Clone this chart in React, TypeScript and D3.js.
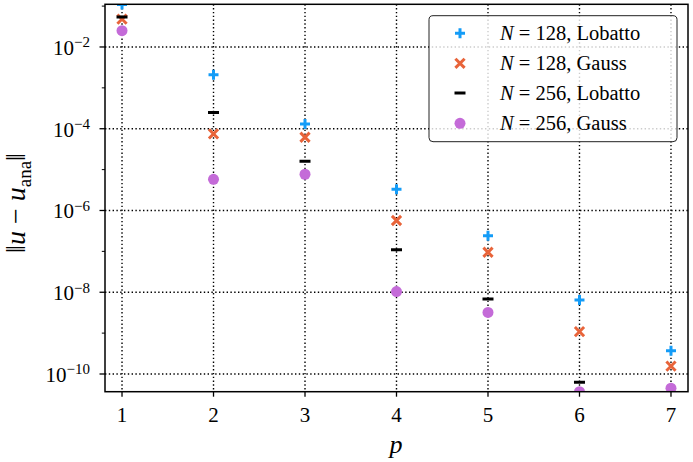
import React from "react";
import * as d3 from "d3";

// polynomial degree on the x axis
const degrees = [1, 2, 3, 4, 5, 6, 7];

// error norms per discretisation
const lobatto128 = [1.1e-1, 2.1e-3, 1.3e-4, 3.3e-6, 2.4e-7, 6.5e-9, 3.7e-10];
const gauss128 = [4.8e-2, 7.5e-5, 6.2e-5, 5.7e-7, 9.5e-8, 1.09e-9, 1.56e-10];
const lobatto256 = [5.4e-2, 2.5e-4, 1.6e-5, 1.09e-7, 6.8e-9, 6.3e-11, 1.5e-11];
const gauss256 = [2.5e-2, 5.8e-6, 7.7e-6, 1.04e-8, 3.2e-9, 3.7e-11, 4.5e-11];

const majorExponents = [-2, -4, -6, -8, -10];
const minorExponents = [-1, -3, -5, -7, -9];

const legendNames = ["128, Lobatto", "128, Gauss", "256, Lobatto", "256, Gauss"];

const BLUE = "#149cf7";
const ORANGE = "#e8643a";
const PURPLE = "#c46bd8";

const width = 693;
const height = 462;
const font = "'Liberation Serif', 'DejaVu Serif', serif";

type Kind = "plus" | "cross" | "dash" | "dot";

const Marker = ({ kind, cx, cy }: { kind: Kind; cx: number; cy: number }) => {
    const h = 5;
    if (kind === "plus") {
        return (
            <path
                d={`M${cx - h},${cy}H${cx + h}M${cx},${cy - h}V${cy + h}`}
                stroke={BLUE}
                strokeWidth={3}
            />
        );
    }
    if (kind === "cross") {
        const c = 4.6;
        return (
            <path
                d={`M${cx - c},${cy - c}L${cx + c},${cy + c}M${cx - c},${cy + c}L${cx + c},${cy - c}`}
                stroke={ORANGE}
                strokeWidth={3}
            />
        );
    }
    if (kind === "dash") {
        return (
            <path d={`M${cx - 5.5},${cy}H${cx + 5.5}`} stroke="black" strokeWidth={3} />
        );
    }
    return <circle cx={cx} cy={cy} r={5.5} fill={PURPLE} />;
};

export default function App() {
    const left = 105;
    const right = 688;
    const top = 4.3;
    const bottom = 391.7;

    const x = d3.scaleLinear().domain([0.814, 7.186]).range([left, right]);
    const y = d3
        .scaleLog()
        .domain([Math.pow(10, -10.433), Math.pow(10, -0.956)])
        .range([bottom, top]);

    const series: [Kind, number[]][] = [
        ["plus", lobatto128],
        ["cross", gauss128],
        ["dash", lobatto256],
        ["dot", gauss256],
    ];

    const legendX = 429;
    const legendY = 15.7;
    const legendRows = [33.3, 63.3, 93, 123.3];

    return (
        <svg
            width={width}
            height={height}
            style={{ position: "absolute", left: 0, top: 0, background: "white" }}
            fontFamily={font}
        >
            <defs>
                <clipPath id="plot-area">
                    <rect x={left} y={top} width={right - left} height={bottom - top} />
                </clipPath>
            </defs>

            {/* dotted grid */}
            <g stroke="black" strokeWidth={1.4} strokeDasharray="1.4,2.4">
                {degrees.map((p) => (
                    <line key={`gx-${p}`} x1={x(p)} x2={x(p)} y1={top} y2={bottom} />
                ))}
                {majorExponents.map((e) => (
                    <line
                        key={`gy-${e}`}
                        x1={left}
                        x2={right}
                        y1={y(Math.pow(10, e))}
                        y2={y(Math.pow(10, e))}
                    />
                ))}
            </g>

            {/* markers */}
            <g clipPath="url(#plot-area)">
                {series.map(([kind, values]) =>
                    values.map((v, i) => (
                        <Marker key={`${kind}-${i}`} kind={kind} cx={x(degrees[i])} cy={y(v)} />
                    ))
                )}
            </g>

            {/* frame */}
            <rect
                x={left}
                y={top}
                width={right - left}
                height={bottom - top}
                fill="none"
                stroke="black"
                strokeWidth={1.5}
            />

            {/* x axis */}
            {degrees.map((p) => (
                <g key={`xt-${p}`}>
                    <line x1={x(p)} x2={x(p)} y1={bottom} y2={bottom + 5} stroke="black" strokeWidth={1.3} />
                    <text x={x(p)} y={bottom + 30.5} textAnchor="middle" fontSize={21}>
                        {p}
                    </text>
                </g>
            ))}

            {/* y axis */}
            {majorExponents.map((e) => {
                const ty = y(Math.pow(10, e));
                return (
                    <g key={`yt-${e}`}>
                        <line x1={left - 5.5} x2={left} y1={ty} y2={ty} stroke="black" strokeWidth={1.3} />
                        <text x={90} y={ty + 8} textAnchor="end" fontSize={21}>
                            <tspan>10</tspan>
                            <tspan dy={-7.5} fontSize={15}>{`\u2212${-e}`}</tspan>
                        </text>
                    </g>
                );
            })}
            {minorExponents.map((e) => {
                const ty = y(Math.pow(10, e));
                if (ty < top) return null;
                return (
                    <line key={`ym-${e}`} x1={left - 3.2} x2={left} y1={ty} y2={ty} stroke="black" strokeWidth={1} />
                );
            })}

            {/* axis titles */}
            <text x={396} y={453} textAnchor="middle" fontSize={26} fontStyle="italic">
                p
            </text>
            <text
                transform={`translate(25, 203) rotate(-90)`}
                textAnchor="middle"
                fontSize={28}
            >
                <tspan>‖</tspan>
                <tspan fontStyle="italic">u</tspan>
                <tspan> − </tspan>
                <tspan fontStyle="italic">u</tspan>
                <tspan dy={6} fontSize={19}>ana</tspan>
                <tspan dy={-6}>‖</tspan>
            </text>

            {/* legend */}
            <rect
                x={legendX}
                y={legendY}
                width={248}
                height={126}
                rx={4}
                fill="white"
                fillOpacity={0.8}
                stroke="#222"
                strokeWidth={1}
            />
            {series.map(([kind], i) => (
                <g key={`lg-${kind}`}>
                    <Marker kind={kind} cx={460} cy={legendRows[i]} />
                    <text x={500} y={legendRows[i] + 7} fontSize={20.5}>
                        <tspan fontStyle="italic">N</tspan>
                        <tspan>{` = ${legendNames[i]}`}</tspan>
                    </text>
                </g>
            ))}
        </svg>
    );
}
